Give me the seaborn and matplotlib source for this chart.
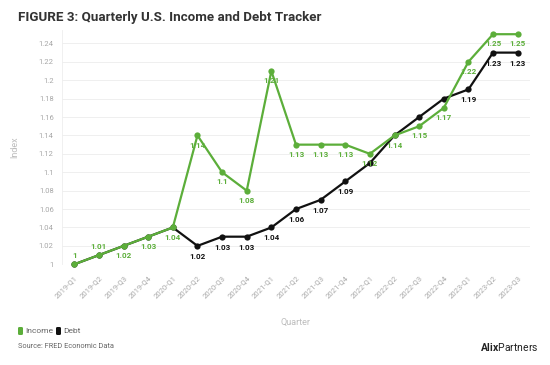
import matplotlib
matplotlib.use("Agg")
import matplotlib.pyplot as plt
import seaborn as sns
import pandas as pd
from matplotlib.patches import FancyBboxPatch
from matplotlib.ticker import FuncFormatter, MultipleLocator

quarters = ["2019-Q1", "2019-Q2", "2019-Q3", "2019-Q4", "2020-Q1", "2020-Q2", "2020-Q3",
            "2020-Q4", "2021-Q1", "2021-Q2", "2021-Q3", "2021-Q4", "2022-Q1", "2022-Q2",
            "2022-Q3", "2022-Q4", "2023-Q1", "2023-Q2", "2023-Q3"]
income = [1.00, 1.01, 1.02, 1.03, 1.04, 1.14, 1.10, 1.08, 1.21, 1.13, 1.13, 1.13, 1.12,
          1.14, 1.15, 1.17, 1.22, 1.25, 1.25]
debt = [1.00, 1.01, 1.02, 1.03, 1.04, 1.02, 1.03, 1.03, 1.04, 1.06, 1.07, 1.09, 1.11,
        1.14, 1.16, 1.18, 1.19, 1.23, 1.23]
debt_label_shown = [False, False, False, False, False, True, True, True, True, True, True,
                    True, False, False, False, False, True, True, True]
income_label_above = [True, True] + [False] * 17

GREEN = "#5cae3a"
BLACK = "#111111"

sns.set_style("white")
plt.rcParams["font.family"] = ["Roboto", "DejaVu Sans"]
plt.rcParams["mathtext.fontset"] = "custom"
plt.rcParams["mathtext.rm"] = "Roboto"
plt.rcParams["mathtext.bf"] = "Roboto:bold"

df = pd.DataFrame({
    "Quarter": list(range(len(quarters))) * 2,
    "Index": debt + income,
    "Series": ["Debt"] * len(quarters) + ["Income"] * len(quarters),
})

fig = plt.figure(figsize=(5.5, 3.65), dpi=100)
ax = fig.add_axes([0.1127, 0.2759, 0.8509, 0.643])

sns.lineplot(data=df, x="Quarter", y="Index", hue="Series",
             hue_order=["Debt", "Income"], palette={"Debt": BLACK, "Income": GREEN},
             marker="o", markersize=4.5, markeredgewidth=0, linewidth=1.6,
             legend=False, ax=ax, clip_on=False)

ax.set_xlim(-0.5, len(quarters) - 0.5)
ax.set_ylim(1.0, 1.255)
ax.yaxis.set_major_locator(MultipleLocator(0.02))
ax.yaxis.set_major_formatter(FuncFormatter(lambda v, p: f"{round(v, 2):g}"))
ax.set_xticks(range(len(quarters)))
ax.set_xticklabels(quarters, rotation=45, ha="right", rotation_mode="anchor")
ax.tick_params(axis="x", colors="#a8a8a8", labelsize=5.5, length=0, pad=7)
ax.tick_params(axis="y", colors="#a8a8a8", labelsize=5.5, length=0, pad=6)
ax.grid(axis="y", color="#ececec", linewidth=0.6)
ax.set_axisbelow(True)
for s in ["top", "right", "bottom"]:
    ax.spines[s].set_visible(False)
ax.spines["left"].set_color("#eeeeee")
ax.spines["left"].set_linewidth(0.6)
ax.set_xlabel("Quarter", color="#bdbdbd", fontsize=6.5, labelpad=14)
ax.set_ylabel("Index", color="#bdbdbd", fontsize=6.5, labelpad=14)

for i, (v, show) in enumerate(zip(debt, debt_label_shown)):
    if show:
        ax.annotate(f"{v:g}", (i, v), xytext=(0, -7.5), textcoords="offset points",
                    ha="center", va="center", fontsize=5.8, fontweight="bold", color=BLACK)
for i, (v, above) in enumerate(zip(income, income_label_above)):
    ax.annotate(f"{v:g}", (i, v), xytext=(0, 6 if above else -7), textcoords="offset points",
                ha="center", va="center", fontsize=5.8, fontweight="bold", color=GREEN)

fig.text(18 / 550, 1 - 17 / 365, "FIGURE 3: Quarterly U.S. Income and Debt Tracker",
         fontsize=9.6, fontweight="bold", color="#333333", va="center", ha="left")

# legend
for x0, col, lab in [(18, GREEN, "Income"), (56, BLACK, "Debt")]:
    box = FancyBboxPatch((x0 / 550, 1 - 335 / 365), 5 / 550, 8 / 365,
                         boxstyle="round,pad=0,rounding_size=0.003",
                         transform=fig.transFigure, facecolor=col, edgecolor="none")
    fig.patches.append(box)
    fig.text((x0 + 7) / 550, 1 - 331 / 365, lab, fontsize=6, color="#666666",
             va="center", ha="left")

fig.text(18 / 550, 1 - 347 / 365, "Source: FRED Economic Data", fontsize=5.3,
         color="#666666", va="center", ha="left")

fig.text(538 / 550, 1 - 347 / 365, r"$\mathbf{Alix}$Partners", fontsize=7.5,
         color="#222222", va="center", ha="right")

fig.savefig("out.png", dpi=100, facecolor="white")
